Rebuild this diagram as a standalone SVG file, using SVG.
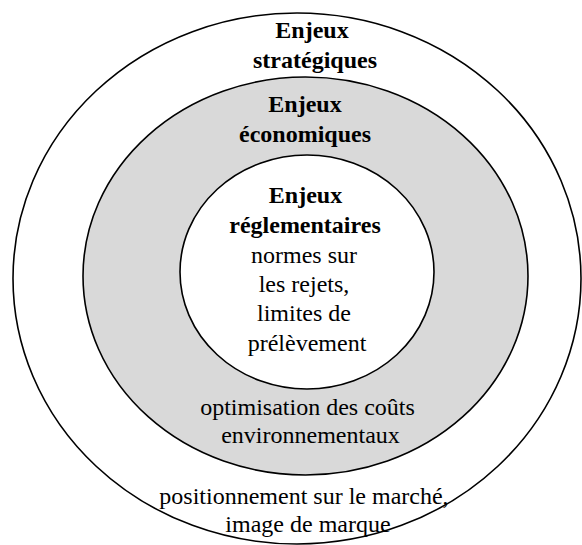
<svg xmlns="http://www.w3.org/2000/svg" width="582" height="545" viewBox="0 0 582 545">
<style>
.ring{stroke:#000;stroke-width:1.6}
.t{font-family:"Liberation Serif","Times New Roman",serif;font-size:24px;fill:#000;text-anchor:middle}
.b{font-weight:bold}
</style>
<rect width="582" height="545" fill="#fff"/>
<g id="strategiques">
<ellipse class="ring" cx="297" cy="278.5" rx="284" ry="265.5" fill="#fff"/>
<text class="t b" x="312" y="38">Enjeux</text>
<text class="t b" x="315" y="68">stratégiques</text>
<text class="t" x="304" y="504">positionnement sur le marché,</text>
<text class="t" x="308" y="532">image de marque</text>
</g>
<g id="economiques">
<ellipse class="ring" cx="305.5" cy="276" rx="222.5" ry="199" fill="#d9d9d9"/>
<text class="t b" x="305" y="112">Enjeux</text>
<text class="t b" x="305" y="142">économiques</text>
<text class="t" x="307.5" y="415">optimisation des coûts</text>
<text class="t" x="310.5" y="443">environnementaux</text>
</g>
<g id="reglementaires">
<ellipse class="ring" cx="307" cy="272" rx="127" ry="117" fill="#fff"/>
<text class="t b" x="305.5" y="203">Enjeux</text>
<text class="t b" x="305" y="233">réglementaires</text>
<text class="t" x="304" y="263">normes sur</text>
<text class="t" x="304" y="292">les rejets,</text>
<text class="t" x="304" y="321">limites de</text>
<text class="t" x="307" y="351">prélèvement</text>
</g>
<g id="connectors"/>
</svg>
